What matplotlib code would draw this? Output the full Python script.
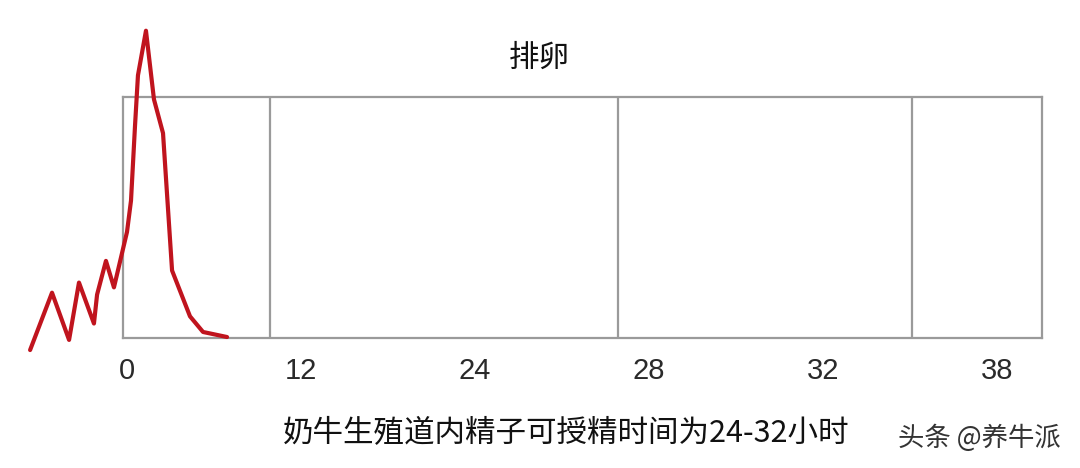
import matplotlib
matplotlib.use("Agg")
import matplotlib.pyplot as plt

plt.rcParams['font.family'] = ['Noto Sans CJK SC', 'DejaVu Sans']

# Category tick labels (hours), evenly spaced on the axis
tick_labels = ["0", "12", "24", "28", "32", "38"]
tick_pos = [0, 1, 2, 3, 4, 5]

# Vertical divider lines inside the frame (in category-position units)
dividers = [0.822, 2.822, 4.511]

# Red curve (position units, relative intensity 0-100 = frame height)
curve_x = [-0.557, -0.431, -0.333, -0.276, -0.190, -0.172, -0.121, -0.075,
           0.0, 0.023, 0.046, 0.063, 0.109, 0.155, 0.207, 0.259, 0.362,
           0.437, 0.575]
curve_y = [-5.0, 18.8, -0.8, 23.0, 6.0, 18.0, 32.0, 21.0,
           44.0, 57.0, 88.0, 109.0, 127.5, 99.0, 85.0, 28.0, 9.0,
           2.5, 0.4]

title_text = "排卵"
bottom_text = "奶牛生殖道内精子可授精时间为24-32小时"
watermark = "头条 @养牛派"

W, H = 1080, 468
fig = plt.figure(figsize=(W / 100, H / 100), dpi=100)
ax = fig.add_axes([123 / W, (H - 338) / H, 919 / W, 241 / H])
ax.set_xlim(-0.023, 5.259)
ax.set_ylim(0, 100)

frame_col = "#9a9a9a"
for s in ax.spines.values():
    s.set_color(frame_col)
    s.set_linewidth(1.6)
for d in dividers:
    ax.axvline(d, color=frame_col, lw=1.6)

ax.plot(curve_x, curve_y, color="#c0141e", lw=3.0, clip_on=False,
        solid_joinstyle="round", solid_capstyle="round", zorder=5)

ax.set_xticks(tick_pos)
ax.set_xticklabels(tick_labels, family=["Liberation Sans", "DejaVu Sans"],
                   fontsize=21, color="#2a2a2a")
ax.tick_params(axis="x", length=0, pad=14)
ax.set_yticks([])

fig.text(539 / W, 1 - 58 / H, title_text, ha="center", va="center",
         fontsize=22, color="#111111")
fig.text(566 / W, 1 - 434 / H, bottom_text, ha="center", va="center",
         fontsize=22, color="#111111")
fig.text(979 / W, 1 - 438 / H, watermark, ha="center", va="center",
         fontsize=19, color="#333333")

fig.savefig("out.png", dpi=100, facecolor="white")
